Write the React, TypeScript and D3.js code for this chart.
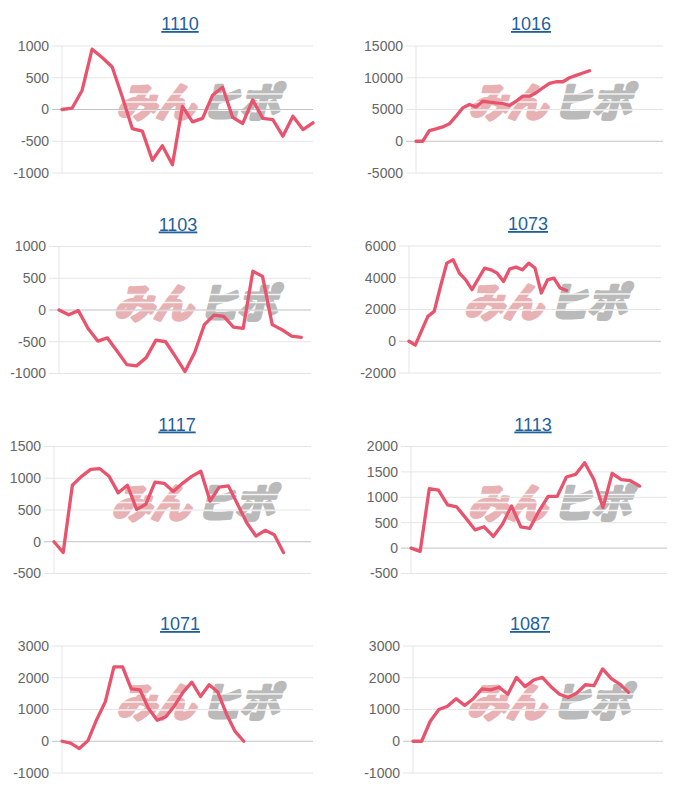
import React from "react";
import * as d3 from "d3";

// ---- data ----
const titles = ["1110", "1016", "1103", "1073", "1117", "1113", "1071", "1087"];

const s1110 = [0, 20, 300, 950, 820, 670, 200, -300, -340, -800, -570, -870, 50, -195, -140, 225, 350, -125, -220, 150, -140, -160, -420, -105, -315, -210];
const s1016 = [0, 0, 1680, 1950, 2260, 2740, 3950, 5260, 5790, 5420, 6300, 6150, 6050, 5950, 5630, 6300, 7100, 7100, 7630, 8420, 9100, 9370, 9370, 10000, 10370, 10740, 11100];
const s1103 = [0, -75, -10, -290, -490, -440, -650, -860, -880, -750, -475, -500, -730, -970, -670, -230, -80, -100, -270, -290, 610, 530, -230, -310, -410, -430];
const s1073 = [0, -250, 670, 1570, 1880, 3450, 4920, 5130, 4290, 3870, 3250, 3940, 4610, 4500, 4290, 3770, 4560, 4670, 4500, 4920, 4610, 3040, 3870, 3980, 3350, 3200];
const s1117 = [0, -170, 890, 1030, 1140, 1150, 1030, 770, 890, 510, 590, 940, 920, 790, 920, 1030, 1110, 640, 860, 880, 590, 300, 90, 180, 110, -170];
const s1113 = [0, -65, 1170, 1140, 850, 810, 590, 360, 420, 230, 470, 830, 420, 390, 730, 1020, 1020, 1400, 1450, 1680, 1350, 800, 1470, 1350, 1330, 1220];
const s1071 = [0, -60, -230, 20, 680, 1240, 2340, 2340, 1650, 1620, 1030, 660, 770, 1120, 1550, 1860, 1410, 1780, 1550, 860, 310, 0];
const s1087 = [0, 0, 630, 1000, 1100, 1340, 1130, 1340, 1650, 1620, 1700, 1480, 2010, 1720, 1930, 2010, 1720, 1480, 1380, 1520, 1780, 1750, 2280, 1970, 1800, 1540];

const seriesValues = [s1110, s1016, s1103, s1073, s1117, s1113, s1071, s1087];
const categoryCounts = [26, 38, 27, 41, 29, 29, 30, 30];

const ticks1110 = [-1000, -500, 0, 500, 1000];
const ticks1016 = [-5000, 0, 5000, 10000, 15000];
const ticks1103 = [-1000, -500, 0, 500, 1000];
const ticks1073 = [-2000, 0, 2000, 4000, 6000];
const ticks1117 = [-500, 0, 500, 1000, 1500];
const ticks1113 = [-500, 0, 500, 1000, 1500, 2000];
const ticks1071 = [-1000, 0, 1000, 2000, 3000];
const ticks1087 = [-1000, 0, 1000, 2000, 3000];
const yTicks = [ticks1110, ticks1016, ticks1103, ticks1073, ticks1117, ticks1113, ticks1071, ticks1087];

// ---- layout ----
const layout = [
  { left: 62, right: 313, top: 46, titleX: 180 },
  { left: 416, right: 663, top: 46, titleX: 531 },
  { left: 59, right: 311, top: 246.5, titleX: 178 },
  { left: 409, right: 661, top: 246, titleX: 528 },
  { left: 54, right: 311, top: 446.5, titleX: 177 },
  { left: 411, right: 667, top: 446.5, titleX: 533 },
  { left: 62, right: 313, top: 646, titleX: 180 },
  { left: 413, right: 663, top: 646, titleX: 530 },
];
const plotH = 127;
const LINE = "#e8546e";
const FONT = "'Liberation Sans', Arial, Helvetica, sans-serif";

function Panel({ i }: { i: number }) {
  const L = layout[i];
  const ticks = yTicks[i];
  const vals = seriesValues[i];
  const n = categoryCounts[i];
  const x = d3.scaleLinear().domain([0, n - 1]).range([L.left, L.right]);
  const y = d3
    .scaleLinear()
    .domain([ticks[0], ticks[ticks.length - 1]])
    .range([L.top + plotH, L.top]);
  const line = d3
    .line<number>()
    .x((_, k) => x(k))
    .y((d) => y(d));
  const cx = (L.left + L.right) / 2 + 10;
  const cy = L.top + 57;
  return (
    <g>
      <text
        x={L.titleX}
        y={L.top - 16}
        textAnchor="middle"
        fontFamily={FONT}
        fontSize={18}
        fill="#1f5f9c"
        style={{ textDecoration: "underline" }}
      >
        {titles[i]}
      </text>
      {/* watermark */}
      <g transform={`translate(${cx},${cy + 14}) skewX(-14)`}>
        <text
          x={-3}
          y={0}
          textAnchor="end"
          fontFamily="'Noto Sans CJK JP', sans-serif"
          fontWeight={700}
          fontSize={40}
          fill="#e8b2b4"
          stroke="#e8b2b4"
          strokeWidth={3.5}
          strokeLinejoin="round"
          letterSpacing={-1}
        >
          みん
        </text>
        <text
          x={3}
          y={0}
          textAnchor="start"
          fontFamily="'Noto Sans CJK JP', sans-serif"
          fontWeight={700}
          fontSize={40}
          fill="#bababa"
          stroke="#bababa"
          strokeWidth={3.5}
          strokeLinejoin="round"
          letterSpacing={-1}
        >
          ヒポ
        </text>
      </g>
      <g>
        {[-9, -1, 7].map((dy, k) => (
          <line
            key={k}
            x1={cx - 90}
            x2={cx + 90}
            y1={cy + dy}
            y2={cy + dy}
            stroke="#ffffff"
            strokeWidth={1.4}
            opacity={0.85}
          />
        ))}
      </g>
      {/* grid */}
      {ticks.map((t) => (
        <g key={t}>
          <line
            x1={L.left - 10}
            x2={L.right}
            y1={y(t)}
            y2={y(t)}
            stroke={t === 0 ? "#c2c2c2" : "#e5e5e5"}
            strokeWidth={1}
          />
          <text
            x={L.left - 13}
            y={y(t)}
            dy="0.35em"
            textAnchor="end"
            fontFamily={FONT}
            fontSize={14}
            fill="#666"
          >
            {t}
          </text>
        </g>
      ))}
      <line x1={L.left} x2={L.left} y1={L.top} y2={L.top + plotH} stroke="#e5e5e5" strokeWidth={1} />
      <path
        d={line(vals) || ""}
        fill="none"
        stroke={LINE}
        strokeWidth={3.3}
        strokeLinejoin="round"
        strokeLinecap="round"
      />
    </g>
  );
}

export default function App() {
  return (
    <svg
      width={700}
      height={800}
      style={{ position: "absolute", left: 0, top: 0, background: "#fff" }}
    >
      {titles.map((_, i) => (
        <Panel key={i} i={i} />
      ))}
    </svg>
  );
}
